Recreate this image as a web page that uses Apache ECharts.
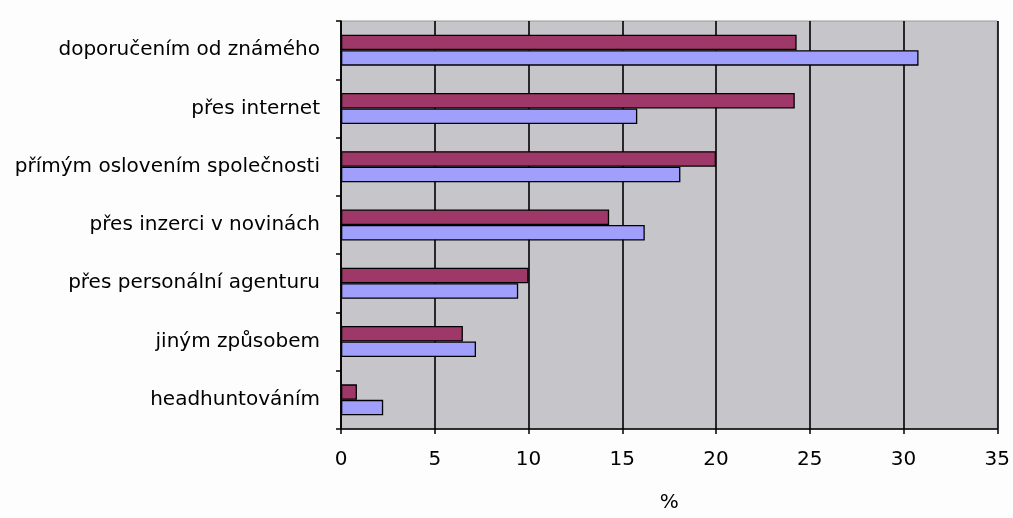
<!DOCTYPE html>
<html>
<head>
<meta charset="utf-8">
<script src="https://cdn.jsdelivr.net/npm/echarts@6/dist/echarts.min.js"></script>
<style>
html,body{margin:0;padding:0;background:#fdfdfd;}
#c{width:1013px;height:518px;}
</style>
</head>
<body>
<div id="c"></div>
<script>
const categories = [
  'doporučením od známého',
  'přes internet',
  'přímým oslovením společnosti',
  'přes inzerci v novinách',
  'přes personální agenturu',
  'jiným způsobem',
  'headhuntováním'
];
const seriesA = [24.3, 24.2, 20.0, 14.3, 10.0, 6.5, 0.85];
const seriesB = [30.8, 15.8, 18.1, 16.2, 9.45, 7.2, 2.25];
const xTicks = { min: 0, max: 35, interval: 5 };
const axisTitle = '%';

const chart = echarts.init(document.getElementById('c'), null, { renderer: 'canvas' });
const font = 'DejaVu Sans';
chart.setOption({
  animation: false,
  backgroundColor: '#fdfdfd',
  grid: {
    left: 341, right: 11, top: 21, bottom: 72,
    show: true, backgroundColor: '#c6c5c9', borderColor: '#9a9a9a', borderWidth: 1,
    containLabel: false
  },
  xAxis: {
    type: 'value',
    min: xTicks.min, max: xTicks.max, interval: xTicks.interval,
    name: axisTitle, nameLocation: 'middle', nameGap: 64,
    nameTextStyle: { fontFamily: font, fontSize: 20, color: '#000' },
    axisLine: { show: true, lineStyle: { color: '#000', width: 1.5 } },
    axisTick: { show: true, length: 5, inside: false, lineStyle: { color: '#000', width: 1.5 } },
    axisLabel: { fontFamily: font, fontSize: 20, color: '#000', margin: 21 },
    splitLine: { show: true, lineStyle: { color: '#000', width: 1.6 } }
  },
  yAxis: {
    type: 'category',
    data: categories,
    inverse: true,
    axisLine: { show: true, lineStyle: { color: '#000', width: 1.5 } },
    axisTick: { show: true, length: 5, lineStyle: { color: '#000', width: 1.5 } },
    axisLabel: { fontFamily: font, fontSize: 20, color: '#000', margin: 21 },
    splitLine: { show: false }
  },
  series: [
    {
      name: 'A', type: 'bar', data: seriesA,
      barWidth: 15.5, barGap: '0%',
      itemStyle: { color: '#9e3868', borderColor: '#000', borderWidth: 1.3 }
    },
    {
      name: 'B', type: 'bar', data: seriesB,
      barWidth: 15.5, barGap: '0%',
      itemStyle: { color: '#a0a0fc', borderColor: '#000', borderWidth: 1.3 }
    }
  ]
});
</script>
</body>
</html>
